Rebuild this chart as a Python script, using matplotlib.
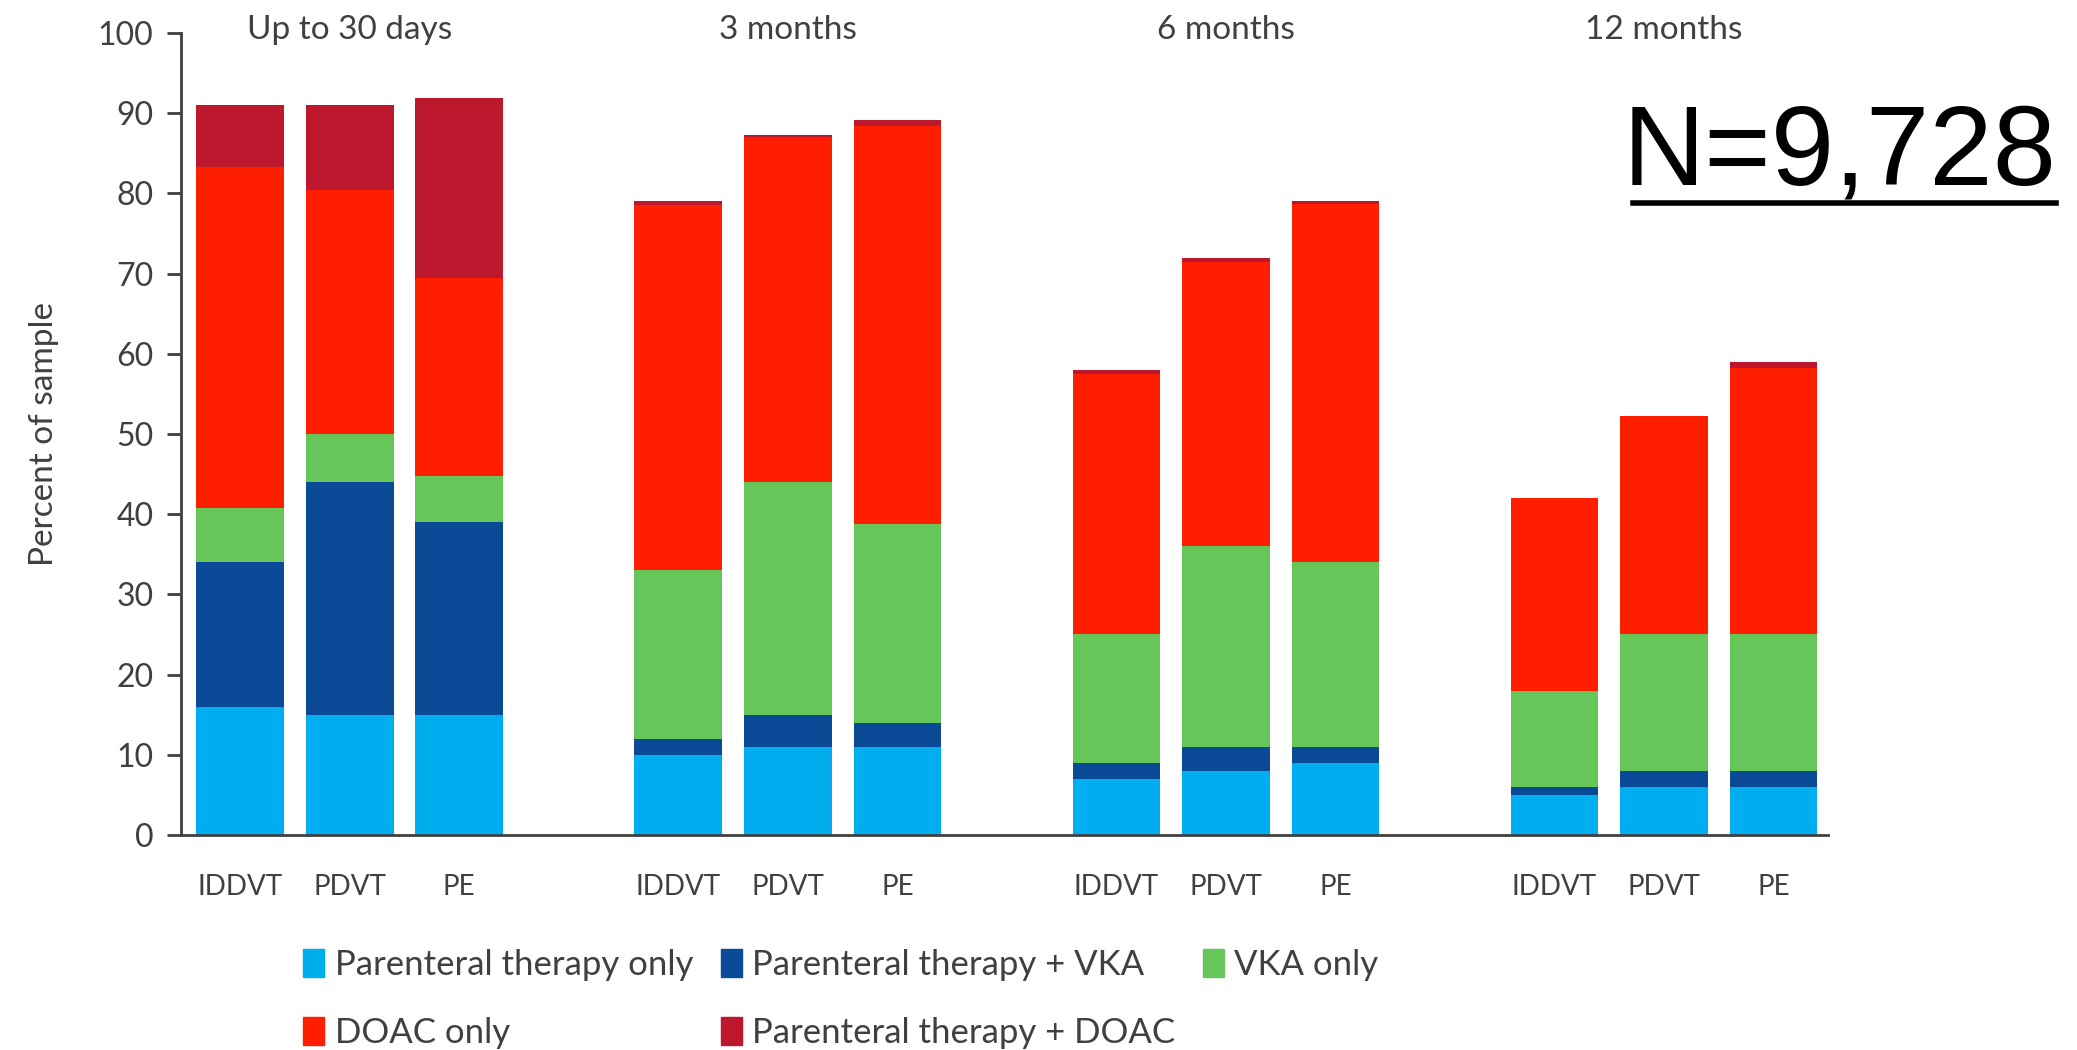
import numpy as np
import matplotlib
matplotlib.use('Agg')
import matplotlib.pyplot as plt
from matplotlib.lines import Line2D
from matplotlib.patches import Patch

# dados (percentual da amostra)
periods = ['Up to 30 days', '3 months', '6 months', '12 months']
categories = ['IDDVT', 'PDVT', 'PE']

parenteral_only = [16, 15, 15, 10, 11, 11, 7, 8, 9, 5, 6, 6]
parenteral_vka = [18, 29, 24, 2, 4, 3, 2, 3, 2, 1, 2, 2]
vka_only = [6.8, 6, 5.8, 21, 29, 24.8, 16, 25, 23, 12, 17, 17]
doac_only = [42.5, 30.4, 24.6, 45.5, 43, 49.6, 32.5, 35.4, 44.7, 24, 27.2, 33.2]
parenteral_doac = [7.7, 10.6, 22.5, 0.5, 0.3, 0.8, 0.5, 0.6, 0.3, 0, 0, 0.8]

series_labels = ['Parenteral therapy only', 'Parenteral therapy + VKA', 'VKA only',
                 'DOAC only', 'Parenteral therapy + DOAC']
colors = ['#00AEEF', '#0A4A97', '#66C65A', '#FF1E00', '#BD172E']

plt.rcParams['font.family'] = ['Lato', 'DejaVu Sans']
txt = '#404040'

fig = plt.figure(figsize=(20.77, 10.5), dpi=100)
ax = fig.add_axes([0.0872, 0.2048, 0.793, 0.7638])

x = np.array([g * 4 + i for g in range(len(periods)) for i in range(len(categories))], dtype=float)
series = [parenteral_only, parenteral_vka, vka_only, doac_only, parenteral_doac]
bottom = np.zeros(len(x))
for vals, col, lab in zip(series, colors, series_labels):
    vals = np.array(vals, dtype=float)
    ax.bar(x, vals, width=0.8, bottom=bottom, color=col, label=lab, linewidth=0)
    bottom += vals

ax.set_xlim(-0.54, 14.5)
ax.set_ylim(0, 100)
ax.set_yticks(range(0, 101, 10))
ax.set_xticks(x)
ax.set_xticklabels(categories * len(periods))
ax.tick_params(axis='x', length=0, pad=28, labelsize=20, labelcolor=txt)
ax.tick_params(axis='y', length=10, width=2, color='#404040', labelsize=23, labelcolor=txt, pad=10)
for s in ['top', 'right']:
    ax.spines[s].set_visible(False)
for s in ['left', 'bottom']:
    ax.spines[s].set_color('#404040')
    ax.spines[s].set_linewidth(2)
ax.set_ylabel('Percent of sample', fontsize=24, color=txt, labelpad=28)

for g, p in enumerate(periods):
    ax.text(g * 4 + 1, 99.3, p, ha='center', va='baseline', fontsize=24, color=txt, clip_on=False)

handles = [Patch(color=c) for c in colors]
order = [0, 3, 1, 4, 2]
fig.legend([handles[i] for i in order], [series_labels[i] for i in order],
           loc='upper left', bbox_to_anchor=(0.1377, 0.113), ncol=3, frameon=False,
           borderpad=0, fontsize=25, handlelength=0.6, handleheight=0.85, handletextpad=0.3,
           columnspacing=0.8, labelspacing=1.05, labelcolor=txt)

fig.text(0.990, 0.824, 'N=9,728', ha='right', va='baseline', fontsize=82,
         family='Liberation Sans', color='black')
fig.add_artist(Line2D([0.786, 0.990], [0.807, 0.807], color='black', linewidth=4,
                      transform=fig.transFigure))

plt.savefig('out.png', dpi=100)
